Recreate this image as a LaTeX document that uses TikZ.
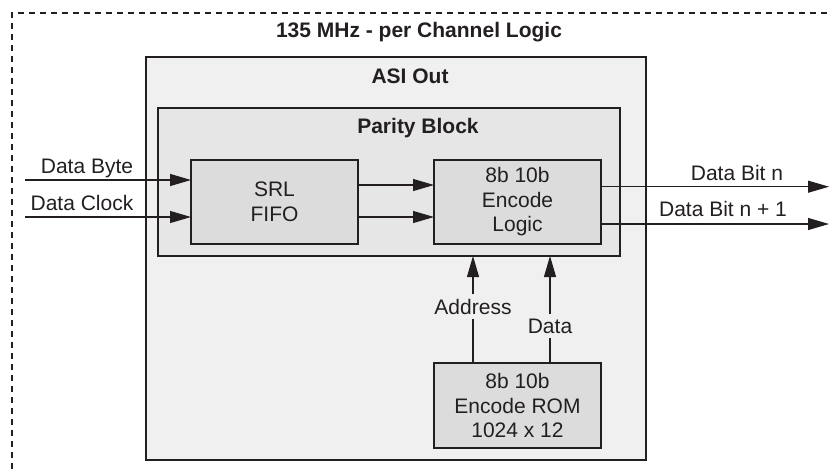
\documentclass[tikz,border=0pt]{standalone}
\usepackage{fontspec}
\setmainfont{Liberation Sans}
\usetikzlibrary{arrows.meta}
\definecolor{ink}{HTML}{231F20}
\definecolor{outerfill}{HTML}{F0F0F0}
\definecolor{midfill}{HTML}{E6E6E7}
\definecolor{blockfill}{HTML}{DCDCDD}
\tikzset{
  txt/.style={font=\fontsize{21}{25}\selectfont, text=ink, inner sep=0pt, anchor=base},
  ttl/.style={txt, font=\fontsize{21}{25}\selectfont\bfseries},
  frame/.style={draw=ink, line width=2.2pt, rectangle, inner sep=0pt, outer sep=0pt},
  blk/.style={frame, fill=blockfill, minimum width=167pt, align=center,
              font=\fontsize{21}{24.5}\selectfont, text=ink},
  conn/.style={draw=ink, line width=1.1pt, -{Triangle[length=21pt,width=12pt]}}
}
\begin{document}
\begin{tikzpicture}[x=1pt,y=-1pt]
  \clip (0,0) rectangle (829,469);
  \fill[white] (0,0) rectangle (829,469);

  % clock-domain boundary (dashed, runs off the page)
  \draw[ink, line width=1.2pt, dash pattern=on 6pt off 5pt] (12,480) -- (12,13) -- (840,13);
  \node[ttl] (domain) at (419,37) {135 MHz - per Channel Logic};

  % containers
  \node[frame, fill=outerfill, minimum width=500pt, minimum height=403pt] (asi) at (396,258.5) {};
  \node[ttl] (asititle) at (410,83) {ASI Out};
  \node[frame, fill=midfill, minimum width=462pt, minimum height=148pt] (parity) at (389,182) {};
  \node[ttl] (paritytitle) at (418,133) {Parity Block};

  % functional blocks
  \node[blk, minimum height=84pt] (srl) at (274.5,202) {SRL\\FIFO};
  \node[blk, minimum height=84pt] (enc) at (517.5,202) {8b 10b\\Encode\\Logic};
  \node[blk, minimum height=85pt] (rom) at (517.5,405.5) {8b 10b\\Encode ROM\\1024 x 12};

  % inputs
  \coordinate (inbyte) at (25,180);
  \coordinate (inclk) at (25,217);
  \draw[conn] (inbyte) -- (inbyte -| srl.west);
  \draw[conn] (inclk) -- (inclk -| srl.west);
  \node[txt] (lbyte) at (87,173) {Data Byte};
  \node[txt] (lclk) at (82,210) {Data Clock};

  % FIFO to encoder
  \coordinate (f1) at (358,185);
  \coordinate (f2) at (358,217);
  \draw[conn] (f1 -| srl.east) -- (f1 -| enc.west);
  \draw[conn] (f2 -| srl.east) -- (f2 -| enc.west);

  % outputs
  \coordinate (obit) at (829,186.7);
  \coordinate (obit1) at (829,224);
  \draw[conn] (obit -| enc.east) -- (obit);
  \draw[conn] (obit1 -| enc.east) -- (obit1);
  \node[txt] (lbit) at (737,180) {Data Bit n};
  \node[txt] (lbit1) at (723,216) {Data Bit n + 1};

  % ROM to encoder
  \coordinate (addr) at (473,0);
  \coordinate (dat) at (550,0);
  \draw[conn] (addr |- rom.north) -- (addr |- parity.south);
  \draw[conn] (dat |- rom.north) -- (dat |- parity.south);
  \node[txt, fill=outerfill, inner ysep=5pt, inner xsep=1pt] (laddr) at (473,314) {Address};
  \node[txt, fill=outerfill, inner ysep=5pt, inner xsep=1pt] (ldat) at (550,333) {Data};
\end{tikzpicture}
\end{document}
